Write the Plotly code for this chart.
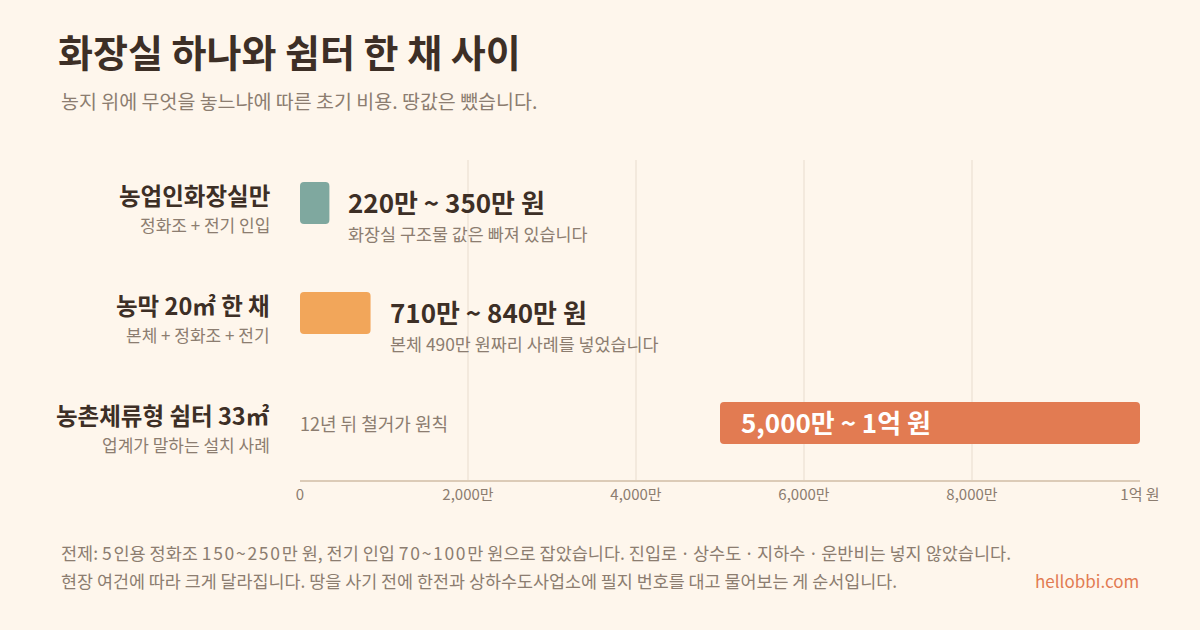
import plotly.graph_objects as go

# ---- data ----
rows = ["농업인화장실만", "농막 20㎡ 한 채", "농촌체류형 쉼터 33㎡"]
row_notes = ["정화조 + 전기 인입", "본체 + 정화조 + 전기", "업계가 말하는 설치 사례"]
bar_start = [0, 0, 5000]          # 만 원
bar_end = [350, 840, 10000]       # 만 원
range_labels = ["220만 ~ 350만 원", "710만 ~ 840만 원", "5,000만 ~ 1억 원"]
range_notes = ["화장실 구조물 값은 빠져 있습니다", "본체 490만 원짜리 사례를 넣었습니다", "12년 뒤 철거가 원칙"]
tick_vals = [0, 2000, 4000, 6000, 8000, 10000]
tick_text = ["0", "2,000만", "4,000만", "6,000만", "8,000만", "1억 원"]
bar_colors = ["#7fa89f", "#f2a65a", "#e27b52"]

FONT = "Noto Sans CJK KR"
BG = "#fef6ec"
DARK = "#3d2f26"
GREY = "#8c7d70"

ypos = list(range(len(rows)))

fig = go.Figure()
fig.add_trace(go.Bar(
    y=ypos,
    x=[e - s for s, e in zip(bar_start, bar_end)],
    base=bar_start,
    orientation="h",
    width=0.382,
    marker=dict(color=bar_colors, line=dict(width=0)),
    hoverinfo="skip",
))

ann = []
for i, (r, n) in enumerate(zip(rows, row_notes)):
    ann.append(dict(x=0, xref="paper", y=i, yref="y", xanchor="right", yanchor="middle",
                    xshift=-28, yshift=8, text=f"<b>{r}</b>", showarrow=False,
                    font=dict(family=FONT, size=23.5, color=DARK)))
    ann.append(dict(x=0, xref="paper", y=i, yref="y", xanchor="right", yanchor="middle",
                    xshift=-28, yshift=-21, text=n, showarrow=False,
                    font=dict(family=FONT, size=17, color=GREY)))

for i in range(2):
    ann.append(dict(x=bar_end[i], xref="x", y=i, yref="y", xanchor="left", yanchor="middle",
                    xshift=17, yshift=2, text=f"<b>{range_labels[i]}</b>", showarrow=False,
                    font=dict(family=FONT, size=26, color=DARK)))
    ann.append(dict(x=bar_end[i], xref="x", y=i, yref="y", xanchor="left", yanchor="middle",
                    xshift=17, yshift=-30, text=range_notes[i], showarrow=False,
                    font=dict(family=FONT, size=17.4, color=GREY)))
ann.append(dict(x=bar_start[2], xref="x", y=2, yref="y", xanchor="left", yanchor="middle",
                xshift=19, yshift=2, text=f"<b>{range_labels[2]}</b>", showarrow=False,
                font=dict(family=FONT, size=26, color="#ffffff")))
ann.append(dict(x=0, xref="x", y=2, yref="y", xanchor="left", yanchor="middle",
                xshift=-2, yshift=0, text=range_notes[2], showarrow=False,
                font=dict(family=FONT, size=18, color=GREY)))

fig.update_layout(
    width=1200, height=630,
    paper_bgcolor=BG, plot_bgcolor=BG,
    margin=dict(l=300, r=60, t=160, b=150),
    showlegend=False,
    barcornerradius=4,
    title=dict(text="<b>화장실 하나와 쉼터 한 채 사이</b>", x=58/1200, xanchor="left",
               y=1 - 54/630, yanchor="middle",
               font=dict(family=FONT, size=38, color=DARK)),
    xaxis=dict(range=[0, 10000], tickvals=tick_vals, ticktext=tick_text,
               showgrid=True, gridcolor="#f3e9dd", gridwidth=2, zeroline=False,
               showline=True, linecolor="#dccbb7", linewidth=2, ticks="",
               tickfont=dict(family=FONT, size=15, color=GREY), fixedrange=True),
    yaxis=dict(range=[2.518, -0.391], showticklabels=False, showgrid=False,
               zeroline=False, fixedrange=True),
    annotations=ann,
)

def px(x):
    return (x - 300) / 840
def py(y):
    return (480 - y) / 320

DOT = '<span style="letter-spacing:3px">{}</span>'
NUM = '<span style="letter-spacing:1.7px">{}</span>'
line1 = ("전제: " + NUM.format("5") + "인용 정화조 " + NUM.format("150~250") + "만 원, 전기 인입 "
         + NUM.format("70~100") + "만 원으로 잡았습니다. 진입"
         + DOT.format("로·") + "상수" + DOT.format("도·") + "지하" + DOT.format("수·")
         + "운반비는 넣지 않았습니다.")

fig.add_annotation(x=px(59), y=py(100), xref="paper", yref="paper", xanchor="left", yanchor="middle",
                   text="농지 위에 무엇을 놓느냐에 따른 초기 비용. 땅값은 뺐습니다.", showarrow=False,
                   font=dict(family=FONT, size=19.5, color=GREY))
fig.add_annotation(x=px(59), y=py(552), xref="paper", yref="paper", xanchor="left", yanchor="middle",
                   text=line1, showarrow=False, font=dict(family=FONT, size=17.5, color=GREY))
fig.add_annotation(x=px(59), y=py(580), xref="paper", yref="paper", xanchor="left", yanchor="middle",
                   text="현장 여건에 따라 크게 달라집니다. 땅을 사기 전에 한전과 상하수도사업소에 필지 번호를 대고 물어보는 게 순서입니다.",
                   showarrow=False, font=dict(family=FONT, size=17.4, color=GREY))
fig.add_annotation(x=px(1141), y=py(580), xref="paper", yref="paper", xanchor="right", yanchor="middle",
                   text="hellobbi.com", showarrow=False, font=dict(family=FONT, size=17, color="#e27b52"))

fig.write_html("out.html", config={"displayModeBar": False},
               post_script="document.body.style.margin='0';document.body.style.background='#fef6ec';")
